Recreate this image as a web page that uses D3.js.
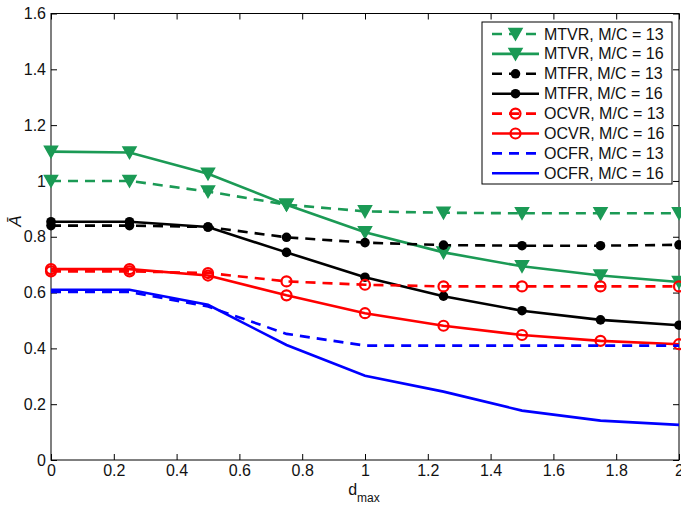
<!DOCTYPE html>
<html>
<head>
<meta charset="utf-8">
<script src="https://cdn.jsdelivr.net/npm/d3@7"></script>
<style>
  body { margin: 0; background: #fff; }
  svg text { font-family: "Liberation Sans", Arial, sans-serif; }
</style>
</head>
<body>
<div id="chart"></div>
<script>
// d_max values on the x axis
const dmax = [0, 0.25, 0.5, 0.75, 1, 1.25, 1.5, 1.75, 2];

// series values
const mtvr13 = [1.0, 1.0, 0.962, 0.915, 0.891, 0.886, 0.884, 0.884, 0.884];
const mtvr16 = [1.105, 1.102, 1.026, 0.915, 0.816, 0.744, 0.694, 0.661, 0.638];
const mtfr13 = [0.84, 0.84, 0.835, 0.798, 0.779, 0.770, 0.768, 0.768, 0.771];
const mtfr16 = [0.854, 0.854, 0.835, 0.744, 0.655, 0.587, 0.535, 0.502, 0.483];
const ocvr13 = [0.676, 0.676, 0.670, 0.640, 0.628, 0.622, 0.622, 0.622, 0.622];
const ocvr16 = [0.684, 0.684, 0.661, 0.590, 0.526, 0.481, 0.448, 0.427, 0.415];
const ocfr13 = [0.602, 0.602, 0.55, 0.452, 0.41, 0.41, 0.41, 0.41, 0.41];
const ocfr16 = [0.61, 0.61, 0.556, 0.412, 0.302, 0.245, 0.177, 0.141, 0.126];

const seriesNames = [
  'MTVR, M/C = 13', 'MTVR, M/C = 16',
  'MTFR, M/C = 13', 'MTFR, M/C = 16',
  'OCVR, M/C = 13', 'OCVR, M/C = 16',
  'OCFR, M/C = 13', 'OCFR, M/C = 16'
];
const seriesValues = [mtvr13, mtvr16, mtfr13, mtfr16, ocvr13, ocvr16, ocfr13, ocfr16];

const xTicks = [0, 0.2, 0.4, 0.6, 0.8, 1, 1.2, 1.4, 1.6, 1.8, 2];
const yTicks = [0, 0.2, 0.4, 0.6, 0.8, 1, 1.2, 1.4, 1.6];

// style per series
const green = '#1b9a55';
const styles = [
  { color: green, dash: true, marker: 'tri' },
  { color: green, dash: false, marker: 'tri' },
  { color: '#000', dash: true, marker: 'dot' },
  { color: '#000', dash: false, marker: 'dot' },
  { color: '#ff0000', dash: true, marker: 'circ' },
  { color: '#ff0000', dash: false, marker: 'circ' },
  { color: '#0000ff', dash: true, marker: null },
  { color: '#0000ff', dash: false, marker: null }
];

const totalWidth = 681, totalHeight = 510;
const margin = { top: 13.5, right: 2, bottom: 50, left: 51 };
const width = totalWidth - margin.left - margin.right;
const height = totalHeight - margin.top - margin.bottom;
const fontSize = '16px';

const svg = d3.select('#chart')
  .append('svg')
  .attr('width', totalWidth)
  .attr('height', totalHeight)
  .append('g')
  .attr('transform', `translate(${margin.left},${margin.top})`);

const x = d3.scaleLinear().domain([0, 2]).range([0, width]);
const y = d3.scaleLinear().domain([0, 1.6]).range([height, 0]);

// axes, ticks pointing inward
const fmt = d => d3.format('~g')(d);
const styleAxis = g => {
  g.select('.domain').remove();
  g.selectAll('line').attr('stroke', '#000');
  g.selectAll('text').style('font-size', fontSize).attr('fill', '#111');
};

svg.append('g')
  .attr('transform', `translate(0,${height})`)
  .call(d3.axisBottom(x).tickValues(xTicks).tickFormat(fmt).tickSize(-6).tickPadding(5))
  .call(styleAxis);

svg.append('g')
  .call(d3.axisLeft(y).tickValues(yTicks).tickFormat(fmt).tickSize(-6).tickPadding(5))
  .call(styleAxis);

svg.append('g')
  .call(d3.axisTop(x).tickValues(xTicks).tickFormat('').tickSize(-6))
  .call(styleAxis);

svg.append('g')
  .attr('transform', `translate(${width},0)`)
  .call(d3.axisRight(y).tickValues(yTicks).tickFormat('').tickSize(-6))
  .call(styleAxis);

svg.append('rect')
  .attr('width', width)
  .attr('height', height)
  .attr('fill', 'none')
  .attr('stroke', '#000')
  .attr('stroke-width', 1);

// marker drawing helper
function drawMarker(g, type, color) {
  if (type === 'tri') {
    g.append('path')
      .attr('d', 'M-6.5,-5.5 L6.5,-5.5 L0,6 Z')
      .attr('fill', color)
      .attr('stroke', color)
      .attr('stroke-width', 1.5);
  } else if (type === 'dot') {
    g.append('circle')
      .attr('r', 4.8)
      .attr('fill', color);
  } else if (type === 'circ') {
    g.append('circle')
      .attr('r', 5)
      .attr('fill', 'none')
      .attr('stroke', color)
      .attr('stroke-width', 2.2);
  }
}

const line = d3.line()
  .x((d, i) => x(dmax[i]))
  .y(d => y(d));

seriesValues.forEach((vals, k) => {
  const st = styles[k];
  const g = svg.append('g').attr('class', 'series');
  g.append('path')
    .datum(vals)
    .attr('d', line)
    .attr('fill', 'none')
    .attr('stroke', st.color)
    .attr('stroke-width', 2.6)
    .attr('stroke-dasharray', st.dash ? '10,7' : null);
  if (st.marker) {
    g.selectAll('.mk')
      .data(vals)
      .enter()
      .append('g')
      .attr('transform', (d, i) => `translate(${x(dmax[i])},${y(d)})`)
      .each(function() { drawMarker(d3.select(this), st.marker, st.color); });
  }
});

// axis labels
svg.append('text')
  .attr('transform', `translate(${15 - margin.left},${221 - margin.top}) rotate(-90)`)
  .attr('text-anchor', 'middle')
  .attr('dominant-baseline', 'central')
  .style('font-size', '17px')
  .style('font-style', 'italic')
  .attr('fill', '#111')
  .text('Ā');

const xl = svg.append('text')
  .attr('x', 364 - margin.left)
  .attr('y', 495 - margin.top)
  .attr('text-anchor', 'middle')
  .style('font-size', fontSize)
  .attr('fill', '#111');
xl.append('tspan').text('d');
xl.append('tspan').attr('dy', 7).style('font-size', '12px').text('max');

// legend
const legend = svg.append('g')
  .attr('transform', `translate(${482 - margin.left},${22 - margin.top})`);

legend.append('rect')
  .attr('width', 190)
  .attr('height', 162)
  .attr('fill', '#fff')
  .attr('stroke', '#000')
  .attr('stroke-width', 1);

const items = legend.selectAll('.legend-item')
  .data(seriesNames)
  .enter()
  .append('g')
  .attr('class', 'legend-item')
  .attr('transform', (d, i) => `translate(0,${12 + i * 19.9})`);

items.append('line')
  .attr('x1', 10)
  .attr('x2', 57)
  .attr('stroke', (d, i) => styles[i].color)
  .attr('stroke-width', 2.6)
  .attr('stroke-dasharray', (d, i) => styles[i].dash ? '10,7' : null);

items.each(function(d, i) {
  if (styles[i].marker) {
    const m = d3.select(this).append('g').attr('transform', 'translate(33.5,0)');
    drawMarker(m, styles[i].marker, styles[i].color);
  }
});

items.append('text')
  .attr('x', 62)
  .attr('dominant-baseline', 'central')
  .style('font-size', fontSize)
  .attr('fill', '#111')
  .text(d => d);
</script>
</body>
</html>
